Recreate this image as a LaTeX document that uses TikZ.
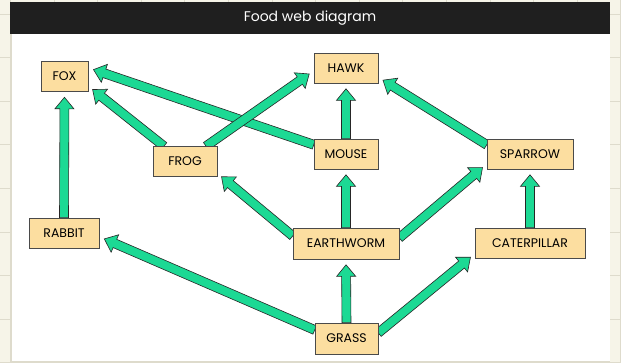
\documentclass[tikz,border=0pt]{standalone}
\usepackage{fontspec}
\setmainfont{Poppins}
\usetikzlibrary{calc}
\definecolor{paper}{HTML}{F6F4E8}
\definecolor{gridgray}{HTML}{DEDBCC}
\definecolor{titlebar}{HTML}{1F1F1F}
\definecolor{boxfill}{HTML}{FCDEA0}
\definecolor{boxline}{HTML}{4A4A4A}
\definecolor{webgreen}{HTML}{1CD994}
\pgfdeclarelayer{panel}\pgfdeclarelayer{links}
\pgfsetlayers{panel,links,main}
\tikzset{organism/.style=
  {draw=boxline, fill=boxfill, line width=0.6pt, minimum height=30pt, inner sep=0pt,
   font=\fontsize{12.5}{13}\selectfont}}
\tikzset{eats/.style=
  {draw=black!85, fill=webgreen, line width=0.6pt,
   to path={let \p1=(\tikztostart), \p2=(\tikztotarget), \n1={atan2(\y2-\y1,\x2-\x1)} in
     ($(\p1)+({\n1+90}:4.5pt)$)
     -- ($(\p2)+({\n1+180}:17pt)+({\n1+90}:4.5pt)$)
     -- ($(\p2)+({\n1+180}:17pt)+({\n1+90}:9.5pt)$)
     -- ($(\p2)+({\n1+180}:5.5pt)$)
     -- ($(\p2)+({\n1+180}:17pt)+({\n1-90}:9.5pt)$)
     -- ($(\p2)+({\n1+180}:17pt)+({\n1-90}:4.5pt)$)
     -- ($(\p1)+({\n1-90}:4.5pt)$) -- cycle}
}}

\begin{document}
\begin{tikzpicture}[x=1pt,y=-1pt]
\useasboundingbox (0,0) rectangle (621,362);
\begin{pgfonlayer}{panel}
\fill[paper] (0,0) rectangle (621,362);
\foreach \g in {0,...,14} \draw[gridgray,line width=0.8pt] ({10.4+43.6*\g},0) -- ++(0,362);
\foreach \g in {0,...,8} \draw[gridgray,line width=0.8pt] (0,{14+43.6*\g}) -- ++(621,0);
\fill[white] (11,34) rectangle (610,361);
\draw[gridgray,line width=0.6pt] (11,34) -- (11,361) -- (610,361);
\fill[titlebar] (10,2) rectangle (610,34);
\end{pgfonlayer}
\node[text=white,font=\fontsize{14}{15}\selectfont] (title) at (310,18) {Food web diagram};

\node[organism,minimum width=47pt] (fox) at (64.5,76.5) {FOX};
\node[organism,minimum width=64pt] (hawk) at (346,68) {HAWK};
\node[organism,minimum width=64pt] (frog) at (185,161.5) {FROG};
\node[organism,minimum width=64pt] (mouse) at (346,154) {MOUSE};
\node[organism,minimum width=86pt] (sparrow) at (530,154) {SPARROW};
\node[organism,minimum width=70pt] (rabbit) at (64,233) {RABBIT};
\node[organism,minimum width=106pt,minimum height=31pt] (earthworm) at (346,243.5) {EARTHWORM};
\node[organism,minimum width=110pt] (caterpillar) at (530,243) {CATERPILLAR};
\node[organism,minimum width=63pt,minimum height=31pt] (grass) at (346.5,338.5) {GRASS};

\begin{pgfonlayer}{links}
\draw[eats] (rabbit.north) to (fox.south);
\draw[eats] (frog.144) to (fox.-22);
\draw[eats] (mouse.164) to (fox.20);
\draw[eats] (frog.36) to (hawk.185);
\draw[eats] (mouse.north) to (hawk.south);
\draw[eats] (sparrow.168) to (hawk.-16);
\draw[eats] (earthworm.172) to (frog.-20);
\draw[eats] (earthworm.north) to (mouse.south);
\draw[eats] (earthworm.6) to (sparrow.193);
\draw[eats] (caterpillar.north) to (sparrow.south);
\draw[eats] (grass.165) to (rabbit.-6);
\draw[eats] (grass.north) to (earthworm.south);
\draw[eats] (grass.10) to (caterpillar.191);
\end{pgfonlayer}
\end{tikzpicture}
\end{document}
